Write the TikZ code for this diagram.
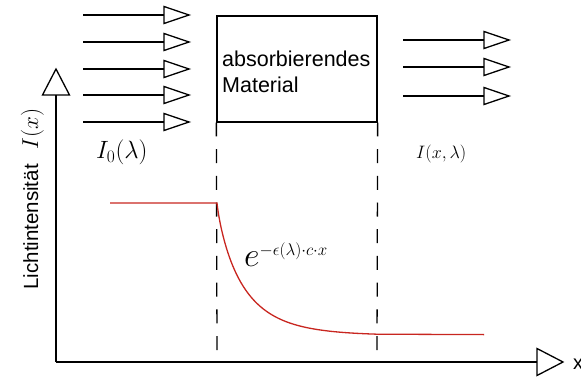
\RequirePackage{fix-cm}
\documentclass[tikz,border=0pt]{standalone}
\usepackage{fontspec}
\newfontfamily\sfarial{Liberation Sans}
\definecolor{curvered}{RGB}{200,38,32}
\tikzset{
  blk/.style={line width=1.3pt, black},
  guide/.style={line width=1.3pt, black, dash pattern=on 14pt off 12.7pt},
  redline/.style={line width=1.3pt, curvered},
  boxtxt/.style={anchor=base west, inner sep=0pt, font=\sfarial\fontsize{21.5}{25}\selectfont},
  headsmall/.pic={\draw[blk, line join=miter, fill=white] (-25,-8.5) -- (0,0) -- (-25,8.5) -- cycle;},
  headbig/.pic={\draw[blk, line join=miter, fill=white] (-26,-13.5) -- (0,0) -- (-26,13.5) -- cycle;},
}
\begin{document}
\begin{tikzpicture}[x=1pt, y=-1pt]
\useasboundingbox (0,0) rectangle (581,377);
% incoming beams
\foreach \i/\y in {1/15, 2/42, 3/69, 4/95, 5/122}{
  \coordinate (ls\i) at (83,\y);
  \coordinate (lb\i) at (164,\y);
  \coordinate (le\i) at (189,\y);
  \draw[blk] (ls\i) -- (lb\i);
  \pic at (le\i) {headsmall};
}
% outgoing beams
\foreach \i/\y in {1/40, 2/67, 3/96}{
  \coordinate (rs\i) at (403,\y);
  \coordinate (rb\i) at (484,\y);
  \coordinate (re\i) at (509,\y);
  \draw[blk] (rs\i) -- (rb\i);
  \pic at (re\i) {headsmall};
}
% material box
\node[draw, line width=1.3pt, minimum width=160pt, minimum height=106pt, inner sep=0pt] (box) at (297,69) {};
\node[boxtxt] (t1) at (222,67) {absorbierendes};
\node[boxtxt] (t2) at (222,93) {Material};
% guides
\coordinate (gl) at (217,350);
\coordinate (gr) at (377,350);
\draw[guide] (gl) -- (box.south west);
\draw[guide] (gr) -- (box.south east);
% axes
\coordinate (o) at (56,362);
\coordinate (ybase) at (56,95);
\coordinate (ytip) at (56,69);
\coordinate (xbase) at (537,362);
\coordinate (xtip) at (563,362);
\draw[blk] (o) -- (ybase);
\draw[blk] (o) -- (xbase);
\pic[rotate=90] at (ytip) {headbig};
\pic at (xtip) {headbig};
\node[anchor=west, inner sep=0pt, font=\sfarial\fontsize{20}{24}\selectfont] (xl) at (573,364) {x};
\node[rotate=90, anchor=base, inner sep=0pt] (yl) at (38,199)
  {{\sfarial\fontsize{20.5}{24}\selectfont Lichtintensität}\hspace*{15pt}{\fontsize{23}{27}\selectfont$I(x)$}};
% labels
\node[anchor=base west, inner sep=0pt, font=\fontsize{25}{30}\selectfont] (i0) at (96,159) {$I_0(\lambda)$};
\node[anchor=base west, inner sep=0pt, font=\fontsize{18}{21}\selectfont] (ix) at (416,159) {$I(x,\lambda)$};
\node[anchor=base west, inner sep=0pt, font=\fontsize{34}{40}\selectfont] (ex) at (244,266)
  {$e\raisebox{11pt}{\fontsize{17}{20}\selectfont$-\epsilon(\lambda){\cdot}c{\cdot}x$}$};
% intensity curve
\coordinate (r0) at (110,203);
\coordinate (r1) at (217,203);
\coordinate (r3) at (484,334.6);
\draw[redline] (r0) -- (r1) -- plot[domain=0.2:160, samples=120, smooth] ({217+\x},{335.5-132.5*exp(-(\x/26.5)^0.85)}) -- (r3);
\end{tikzpicture}
\end{document}
